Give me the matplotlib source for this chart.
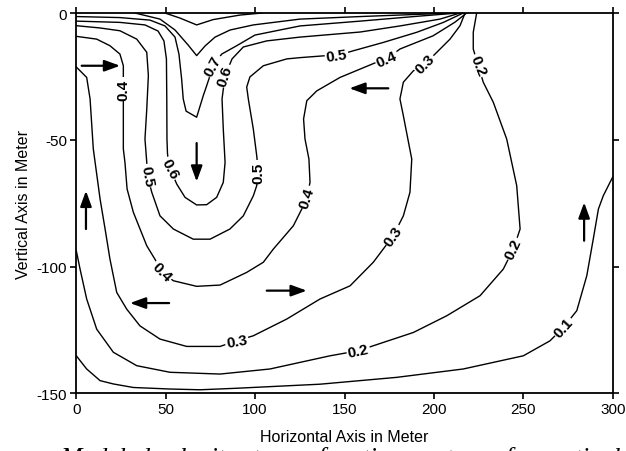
import matplotlib
matplotlib.use("Agg")
import matplotlib.pyplot as plt

plt.rcParams['font.family'] = ['Liberation Sans', 'DejaVu Sans']
plt.rcParams['axes.unicode_minus'] = False

# ---- contour lines (x in m, y in m) ----
c01_x = [0, 5.8, 13.3, 20.7, 31.9, 52.4, 69.2, 89.7, 136.3, 179.2, 216.4, 250.0, 264.9, 272.4, 279.9, 285.5, 289.1, 292.0, 294.7, 299.4, 300]
c01_y = [-135.2, -140.4, -145.0, -146.3, -147.7, -148.3, -148.6, -148.0, -146.4, -143.7, -140.4, -135.2, -129.3, -124.0, -117.4, -103.6, -89.2, -77.3, -72.1, -65.5, -64.7]

c02_x = [0, 2.1, 5.8, 11.4, 20.7, 33.8, 52.4, 80.4, 108.3, 141.9, 157.7, 188.5, 207.2, 225.8, 238.8, 244.4, 248.2, 246.3, 240.7, 233.2, 227.6, 224.8, 222.0, 222.0, 223.9]
c02_y = [-93.8, -101.0, -112.8, -124.7, -133.8, -139.1, -141.7, -142.4, -140.4, -135.2, -133.2, -126.0, -119.4, -111.5, -101.0, -93.1, -85.2, -68.1, -49.7, -35.2, -27.3, -20.8, -14.2, -7.6, 0]

c03_x = [0, 5.8, 7.7, 9.5, 13.3, 16.1, 18.8, 22.6, 28.2, 35.6, 46.8, 61.7, 80.4, 89.7, 99.0, 117.7, 136.3, 153.1, 166.1, 177.3, 182.9, 186.6, 187.6, 182.9, 181.0, 182.9, 188.5, 195.0, 201.6, 209.0, 214.6, 217.4]
c03_y = [-21.3, -25.4, -33.9, -53.6, -73.4, -85.2, -97.0, -110.2, -116.8, -123.4, -128.6, -131.5, -131.5, -129.3, -127.3, -120.7, -112.8, -107.6, -98.3, -87.8, -80.0, -70.7, -57.6, -40.5, -33.9, -27.3, -22.8, -20.1, -15.5, -10.3, -5.0, 0]

c04_x = [0, 11.4, 18.8, 24.4, 26.3, 26.3, 26.3, 26.3, 27.2, 28.4, 31.9, 39.4, 45.0, 47.8, 54.3, 67.3, 80.4, 95.3, 104.6, 110.2, 121.4, 126.1, 128.9, 130.7, 130.1, 127.9, 127.1, 128.9, 134.5, 147.5, 168.0, 173.6, 181.0, 199.5, 211.8, 218.3]
c04_y = [-9.2, -10.3, -12.9, -16.2, -20.8, -30.0, -37.9, -53.6, -58.9, -69.4, -78.6, -91.8, -98.3, -102.2, -105.6, -107.8, -107.3, -102.3, -98.3, -93.1, -83.9, -77.3, -72.7, -66.8, -57.6, -49.7, -41.8, -34.6, -30.7, -25.4, -19.4, -18.1, -14.2, -9.0, -3.6, 0]

c05_x = [0, 13.3, 24.4, 33.8, 39.4, 40.3, 39.4, 38.4, 39.4, 39.8, 42.2, 46.8, 54.3, 65.4, 74.8, 85.9, 93.4, 99.0, 100.9, 101.8, 100.9, 99.0, 96.2, 95.3, 97.1, 104.6, 117.7, 125.1, 140.0, 145.6, 154.9, 171.7, 190.4, 205.3, 216.4]
c05_y = [-5.0, -5.9, -7.0, -10.3, -15.5, -24.7, -37.9, -49.7, -58.9, -64.2, -70.7, -80.0, -85.2, -89.2, -89.2, -85.2, -80.0, -72.1, -68.1, -62.8, -56.3, -45.8, -33.9, -29.2, -25.2, -20.8, -18.1, -17.6, -16.8, -16.8, -14.9, -11.6, -7.6, -3.7, 0]

c06_x = [0, 24.4, 38.4, 45.7, 49.0, 50.4, 50.6, 50.7, 51.0, 52.4, 56.2, 60.8, 67.3, 72.9, 78.5, 82.2, 83.2, 82.2, 81.5, 83.2, 87.1, 93.4, 106.5, 125.1, 158.7, 181.0, 203.4, 214.6]
c06_y = [-3.2, -3.7, -4.7, -7.1, -11.0, -18.1, -33.9, -49.7, -55.6, -61.5, -67.5, -72.7, -75.7, -75.6, -72.7, -66.8, -58.9, -45.8, -33.9, -24.7, -18.1, -13.4, -11.0, -9.5, -7.5, -5.1, -2.4, 0]

c07_x = [0, 24.4, 41.2, 49.6, 55.2, 57.4, 58.9, 59.8, 61.4, 67.3, 71.0, 72.9, 76.6, 81.3, 89.7, 99.9, 125.1, 158.7, 192.2, 213.5]
c07_y = [-1.4, -1.8, -2.8, -5.1, -9.5, -16.2, -26.0, -33.9, -38.7, -41.1, -32.6, -28.7, -20.8, -16.2, -12.9, -8.7, -5.1, -3.2, -1.2, 0]

c08_x = [32.8, 46.8, 55.2, 62.5, 67.3, 72.0, 77.6, 86.0, 99.0, 125.1, 158.7, 192.2, 211.8]
c08_y = [0, -2.4, -6.7, -12.6, -16.8, -13.0, -9.5, -6.7, -4.7, -2.4, -1.4, -0.5, 0]

c09_x = [49.6, 58.0, 67.3, 76.5, 91.6, 103.9]
c09_y = [0, -2.0, -4.7, -2.6, -0.8, 0]

contours_x = [c01_x, c02_x, c03_x, c04_x, c05_x, c06_x, c07_x, c08_x, c09_x]
contours_y = [c01_y, c02_y, c03_y, c04_y, c05_y, c06_y, c07_y, c08_y, c09_y]

# ---- contour labels ----
label_text = ["0.1", "0.2", "0.2", "0.2", "0.3", "0.3", "0.3",
              "0.4", "0.4", "0.4", "0.4", "0.5", "0.5", "0.5", "0.6", "0.6", "0.7"]
label_x = [272.4, 157.7, 244.4, 224.8, 89.7, 177.3, 195.0,
           26.3, 47.8, 128.9, 173.6, 39.8, 101.8, 145.6, 52.4, 83.2, 76.6]
label_y = [-124.0, -133.2, -93.1, -20.8, -129.3, -87.8, -20.1,
           -30.0, -102.2, -72.7, -18.1, -64.2, -62.8, -16.8, -61.5, -24.7, -20.8]
label_rot = [48, 12, 65, -68, 10, 55, 45,
             90, -45, 72, 24, -80, 90, 8, -62, 72, 62]

# ---- flow arrows (tail -> head) ----
arrow_tail_x = [3.0, 174.5, 67.3, 5.4, 51.9, 106.5, 284.0]
arrow_tail_y = [-20.8, -29.7, -51.3, -85.2, -114.4, -109.5, -89.8]
arrow_head_x = [24.5, 152.7, 67.3, 5.4, 30.0, 128.9, 284.0]
arrow_head_y = [-20.8, -29.7, -66.5, -70.1, -114.4, -109.5, -74.7]

x_ticks = [0, 50, 100, 150, 200, 250, 300]
y_ticks = [-150, -100, -50, 0]

fig = plt.figure(figsize=(6.26, 4.52), dpi=100)
ax = fig.add_axes([0.1219, 0.1276, 0.9788 - 0.1219, 0.969 - 0.1276])

for xs, ys in zip(contours_x, contours_y):
    ax.plot(xs, ys, color='black', lw=1.0, zorder=2, solid_joinstyle='round')

for t, x, y, r in zip(label_text, label_x, label_y, label_rot):
    ax.text(x, y, t, rotation=r, rotation_mode='anchor', ha='center', va='center',
            fontsize=11, fontweight='bold', zorder=4,
            bbox=dict(boxstyle='square,pad=0.08', fc='white', ec='none'))

for tx, ty, hx, hy in zip(arrow_tail_x, arrow_tail_y, arrow_head_x, arrow_head_y):
    ax.annotate('', xy=(hx, hy), xytext=(tx, ty),
                arrowprops=dict(arrowstyle='-|>,head_length=0.55,head_width=0.2',
                                mutation_scale=17, lw=1.6, color='black',
                                shrinkA=0, shrinkB=0), zorder=5)

ax.set_xlim(0, 300)
ax.set_ylim(-150, 0)
ax.set_xticks(x_ticks)
ax.set_yticks(y_ticks)
ax.set_xticklabels([str(v) for v in x_ticks])
ax.set_yticklabels([str(v) for v in y_ticks])
ax.tick_params(direction='out', top=True, right=True, labeltop=False, labelright=False,
               length=4.5, width=1.2, labelsize=11, pad=2)
for s in ax.spines.values():
    s.set_linewidth(1.3)

ax.set_xlabel('Horizontal Axis in Meter', fontsize=11.5, labelpad=9)
ax.set_ylabel('Vertical Axis in Meter', fontsize=11.5, labelpad=4)

fig.text(60 / 626, -13.0 / 452, 'Modeled velocity stream function contours for vertical and radial direction',
         fontsize=18.5, family=['Liberation Serif', 'DejaVu Serif'], style='italic',
         ha='left', va='baseline')

fig.savefig('out.png', dpi=100)
